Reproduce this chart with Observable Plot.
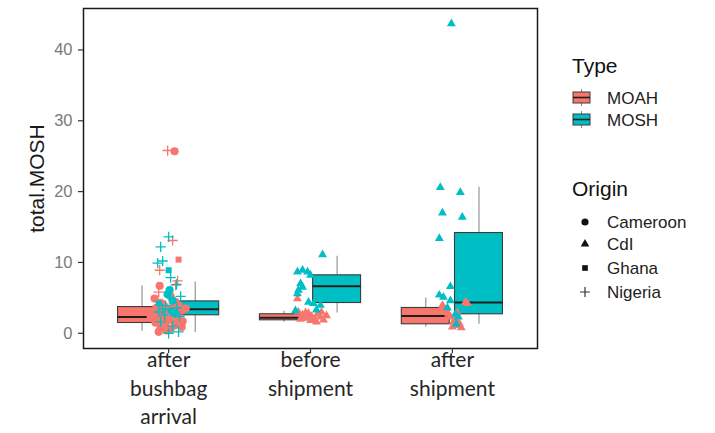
<!DOCTYPE html>
<html>
<head>
<meta charset="utf-8">
<script src="https://cdn.jsdelivr.net/npm/d3@7"></script>
<script src="https://cdn.jsdelivr.net/npm/@observablehq/plot@0.6"></script>
<style>
  html, body { margin: 0; padding: 0; background: #fff; }
  #wrap { position: relative; width: 715px; height: 433px; }
  #legend { position: absolute; left: 0; top: 0; pointer-events: none; }
</style>
</head>
<body>
<div id="wrap"><div id="chart"></div><svg id="legend" width="715" height="433"></svg></div>
<script>
// ---- categories ----
const stages = ["after\nbushbag\narrival", "before\nshipment", "after\nshipment"];
const types = ["MOAH", "MOSH"];
const typeColors = ["#F8766D", "#00BFC4"];
const origins = ["Cameroon", "CdI", "Ghana", "Nigeria"];
const yTicks = [0, 10, 20, 30, 40];

// ---- box statistics (stage index, type) ----
const boxStage = [1, 1, 2, 2, 3, 3];
const boxType  = ["MOAH", "MOSH", "MOAH", "MOSH", "MOAH", "MOSH"];
const boxLow   = [0.28, 0.10, 1.55, 2.86, 0.89, 1.27];
const boxQ1    = [1.45, 2.54, 1.83, 4.27, 1.27, 2.68];
const boxMed   = [2.30, 3.38, 2.20, 6.63, 2.44, 4.33];
const boxQ3    = [3.70, 4.50, 2.68, 8.18, 3.57, 14.15];
const boxHigh  = [6.67, 7.24, 3.10, 10.86, 4.98, 20.60];

// ---- jittered points: values, jitter (category units), origin codes ----
// origin codes: C=Cameroon, I=CdI, G=Ghana, N=Nigeria
const s1MoahValue  = [25.7,25.8,13.1,10.4,8.9,7.4,6.8,6.7,5.8,4.9,4.4,4.1,3.9,3.6,3.4,3.2,3.0,2.8,2.6,2.4,2.3,2.1,1.9,1.7,1.5,1.3,1.1,0.8,0.6,0.2,0.4,2.0,3.8,5.2,3.5,2.2,1.0,0.9,3.6,4.3,1.6];
const s1MoahJitter = [.042,-.007,.028,.070,-.063,.063,.049,-.063,-.070,-.099,.049,-.042,.070,-.085,-.007,.092,-.056,.028,-.106,-.028,.063,-.070,.007,.099,-.092,-.035,.042,-.056,.014,-.070,-.014,.077,-.021,.014,.120,-.127,-.021,.092,.028,-.056,.056];
const s1MoahOrigin = "CNNGNNNCNCCCCCCCCCCCCCCCCCCCCCCCGCCCCCCCC";

const s1MoshValue  = [13.6,12.2,9.9,10.2,8.9,7.85,6.9,6.1,5.5,5.2,4.6,4.2,3.9,3.6,3.4,3.2,3.0,2.8,2.6,2.4,1.6,0.0,0.2,1.0];
const s1MoshJitter = [0,-.056,-.077,-.042,0,.014,.056,.007,-.007,.085,.028,-.070,-.021,.056,-.042,.014,-.070,.042,-.028,.077,-.056,0,.070,.028];
const s1MoshOrigin = "NNNNGNNCCNCGNNNGNCNNNNNN";

const s2MoahValue  = [4.9,3.0,2.6,2.2,2.8,2.4,2.0,2.7,2.3,1.9,2.5,2.0,1.8,1.6,3.0,2.9,2.1];
const s2MoahJitter = [-.092,-.085,-.056,-.035,-.014,.007,.028,.049,.070,.092,.113,-.070,0,.042,.077,-.035,.014];
const s2MoahOrigin = "IIIIIIIIIIIIIIIII";

const s2MoshValue  = [11.1,8.65,8.9,8.65,8.2,7.0,6.5,6.1,5.6,4.4,4.2,3.95,3.2,3.3];
const s2MoshJitter = [.085,-.092,-.056,-.021,0,-.070,-.056,-.085,-.092,-.014,.021,.070,-.106,.042];
const s2MoshOrigin = "IIIIIIIIIIIIII";

const s3MoahValue  = [4.4,4.2,3.95,3.7,3.0,2.3,1.6,1.1,0.9,2.7,2.0,1.4,0.8,3.3,2.9];
const s3MoahJitter = [.092,.106,-.070,-.063,-.035,-.014,.007,.035,0,-.028,.021,.049,.063,-.049,.035];
const s3MoahOrigin = "IIIIIIIIIIIIIII";

const s3MoshValue  = [43.7,20.6,19.9,17.0,16.4,13.4,6.6,5.4,5.1,4.6,3.6,2.3,2.7,1.3];
const s3MoshJitter = [-.007,-.085,.056,-.070,.070,-.092,-.014,-.092,-.063,-.014,-.035,.042,.021,.028];
const s3MoshOrigin = "IIIIIIIIIIIIII";

// ---- build tables ----
const dodge = 0.1875, halfWidth = 0.169;
const boxes = boxStage.map((s, i) => ({
  stage: s, type: boxType[i], low: boxLow[i], q1: boxQ1[i], med: boxMed[i], q3: boxQ3[i], high: boxHigh[i],
  cx: s + (boxType[i] === "MOAH" ? -dodge : dodge)
}));
const codeMap = {C: "Cameroon", I: "CdI", G: "Ghana", N: "Nigeria"};
const series = [
  [1, "MOAH", s1MoahValue, s1MoahJitter, s1MoahOrigin],
  [1, "MOSH", s1MoshValue, s1MoshJitter, s1MoshOrigin],
  [2, "MOAH", s2MoahValue, s2MoahJitter, s2MoahOrigin],
  [2, "MOSH", s2MoshValue, s2MoshJitter, s2MoshOrigin],
  [3, "MOAH", s3MoahValue, s3MoahJitter, s3MoahOrigin],
  [3, "MOSH", s3MoshValue, s3MoshJitter, s3MoshOrigin]
];
const points = series.flatMap(([stage, type, vals, jit, org]) =>
  vals.map((v, i) => ({stage, type, value: v, x: stage + jit[i], origin: codeMap[org[i]]})));
const byOrigin = o => points.filter(d => d.origin === o);

const chart = Plot.plot({
  width: 715, height: 433,
  marginLeft: 83, marginRight: 178, marginTop: 8, marginBottom: 85,
  x: {domain: [0.4, 3.6], axis: null},
  y: {domain: [-2.15, 45.85], axis: null},
  color: {domain: types, range: typeColors},
  style: {fontFamily: "Liberation Sans, Arial, sans-serif", background: "#fff"},
  marks: [
    Plot.ruleX(boxes, {x: "cx", y1: "low", y2: "high", stroke: "#8a8a8a", strokeWidth: 1.1}),
    Plot.rect(boxes, {x1: d => d.cx - halfWidth, x2: d => d.cx + halfWidth, y1: "q1", y2: "q3", fill: "type", stroke: "#3c3c3c", strokeWidth: 1.1}),
    Plot.ruleY(boxes, {y: "med", x1: d => d.cx - halfWidth, x2: d => d.cx + halfWidth, stroke: "#1e1e1e", strokeWidth: 2}),
    Plot.dot(byOrigin("Cameroon"), {x: "x", y: "value", fill: "type", symbol: "circle", r: 4.1}),
    Plot.dot(byOrigin("CdI"), {x: "x", y: "value", fill: "type", symbol: "triangle", r: 3.3}),
    Plot.dot(byOrigin("Ghana"), {x: "x", y: "value", fill: "type", symbol: "square", r: 3.4}),
    Plot.dot(byOrigin("Nigeria"), {x: "x", y: "value", stroke: "type", symbol: "plus", r: 3.4, strokeWidth: 1.3}),
    Plot.frame({stroke: "#1a1a1a", strokeWidth: 1.5}),
    Plot.axisY({ticks: yTicks, tickSize: 5, tickFormat: () => "", stroke: "#333", strokeWidth: 1.2, label: null}),
    Plot.axisY({ticks: yTicks, tickSize: 0, tickPadding: 11, fill: "#7a7a7a", fontSize: 16.5, fontFamily: "Liberation Sans, Arial, sans-serif", label: null}),
    Plot.axisX({ticks: [1, 2, 3], tickSize: 5, tickFormat: () => "", stroke: "#333", strokeWidth: 1.2, label: null}),
    Plot.axisX({ticks: [1, 2, 3], tickSize: 0, tickPadding: -1, tickFormat: d => stages[d - 1], fill: "#262626", fontSize: 21, lineHeight: 1.34, fontFamily: "Lato, 'Open Sans', sans-serif", label: null}),
    Plot.text(["total.MOSH"], {text: d => d, frameAnchor: "left", textAnchor: "middle", dx: -46, rotate: -90, fontSize: 21, fill: "#1a1a1a", fontFamily: "Liberation Sans, Arial, sans-serif"})
  ]
});
document.getElementById("chart").appendChild(chart);

// ---- legends ----
const lg = d3.select("#legend").style("font-family", "Liberation Sans, Arial, sans-serif");
lg.append("text").attr("x", 572).attr("y", 65).attr("dominant-baseline", "central")
  .attr("font-size", 21).attr("fill", "#111").text("Type");
types.forEach((t, i) => {
  const y0 = 89 + i * 22;
  const g = lg.append("g");
  g.append("line").attr("x1", 581.5).attr("x2", 581.5).attr("y1", y0).attr("y2", y0 + 17).attr("stroke", "#8a8a8a");
  g.append("rect").attr("x", 573).attr("y", y0 + 3).attr("width", 17).attr("height", 11)
    .attr("fill", typeColors[i]).attr("stroke", "#3c3c3c");
  g.append("line").attr("x1", 573).attr("x2", 590).attr("y1", y0 + 8.5).attr("y2", y0 + 8.5).attr("stroke", "#1e1e1e").attr("stroke-width", 1.6);
  g.append("text").attr("x", 607).attr("y", y0 + 9).attr("dominant-baseline", "central")
    .attr("font-size", 17).attr("fill", "#222").text(t);
});
lg.append("text").attr("x", 572).attr("y", 188).attr("dominant-baseline", "central")
  .attr("font-size", 21).attr("fill", "#111").text("Origin");
const legendSymbols = [d3.symbolCircle, d3.symbolTriangle, d3.symbolSquare, d3.symbolPlus];
const legendSizes = [40, 32, 32, 34];
const legendY = [222, 244, 268, 292];
origins.forEach((o, i) => {
  const isPlus = i === 3;
  lg.append("path").attr("transform", `translate(585,${legendY[i]})`)
    .attr("d", d3.symbol(legendSymbols[i], legendSizes[i])())
    .attr("fill", isPlus ? "none" : "#111").attr("stroke", isPlus ? "#333" : "none").attr("stroke-width", 1.2);
  lg.append("text").attr("x", 607).attr("y", legendY[i]).attr("dominant-baseline", "central")
    .attr("font-size", 17).attr("fill", "#222").text(o);
});
</script>
</body>
</html>
